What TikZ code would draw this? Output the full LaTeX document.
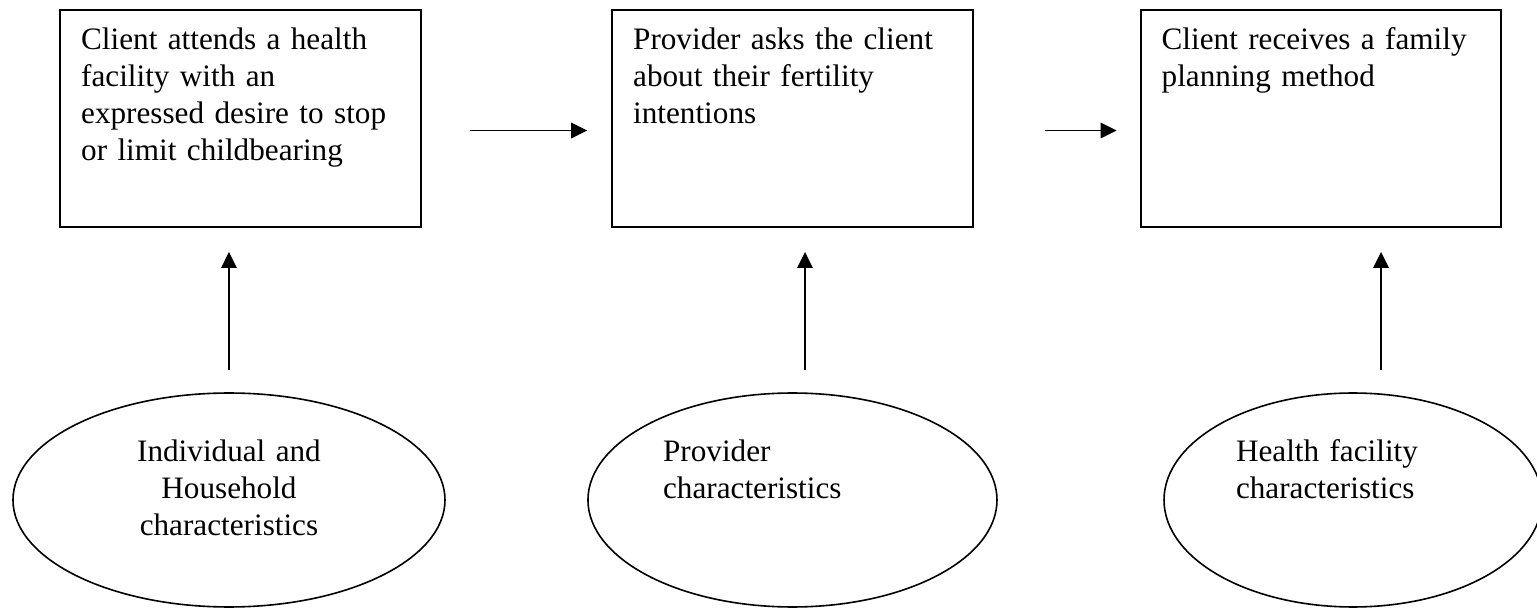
\documentclass[tikz,border=0pt]{standalone}
\usepackage{fontspec}
\setmainfont{Liberation Serif}
\usetikzlibrary{arrows.meta,shapes.geometric}
\tikzset{
    stage/.style={draw, line width=0.7pt, text width=4.2cm, align=left,
                  inner xsep=7.9pt, inner ysep=0pt,
                  text height=15pt, text depth=66.4pt},
    factor/.style={ellipse, draw, line width=0.6pt, inner sep=0pt,
                   minimum height=2.82cm, text height=9pt, text depth=37.5pt},
    flow/.style={-{Triangle[length=6pt, width=5.8pt]}, line width=0.6pt},
}

\begin{document}
\begin{tikzpicture}[font=\fontsize{11.7}{13.8}\selectfont]
    \path[use as bounding box] (0,0) rectangle (20.258,-8.013);

    % top row
    \node[stage] (attend) at (3.170,-1.562) {Client attends a health\\
        facility with an\\ expressed desire to stop\\ or limit childbearing};
    \node[stage] (ask) at (10.445,-1.562) {Provider asks the client\\
        about their fertility\\ intentions};
    \node[stage] (receive) at (17.411,-1.562) {Client receives a family\\
        planning method};

    \draw[flow, shorten <=0.633cm, shorten >=0.316cm]
        ([yshift=-0.158cm]attend.east) -- ([yshift=-0.158cm]ask.west);
    \draw[flow, shorten <=0.936cm, shorten >=0.303cm]
        ([yshift=-0.158cm]ask.east) -- ([yshift=-0.158cm]receive.west);

    % bottom row
    \node[factor, minimum width=5.694cm, text width=3cm, align=center]
        (indiv) at (3.018,-6.590) {Individual and\\ Household\\ characteristics};
    \node[factor, minimum width=5.391cm, text width=3.41cm, align=left]
        (prov) at (10.445,-6.590) {Provider\\ characteristics};
    \node[factor, minimum width=4.982cm, text width=3.084cm, align=left]
        (facil) at (17.833,-6.590) {Health facility\\ characteristics};

    \draw[flow, shorten <=0.29cm, shorten >=0.316cm]
        (indiv.north) -- (indiv.north |- attend.south);
    \draw[flow, shorten <=0.29cm, shorten >=0.316cm]
        ([xshift=0.165cm]prov.north) -- ([xshift=0.165cm]prov.north |- ask.south);
    \draw[flow, shorten <=0.29cm, shorten >=0.316cm]
        ([xshift=0.369cm]facil.north) -- ([xshift=0.369cm]facil.north |- receive.south);
\end{tikzpicture}
\end{document}
